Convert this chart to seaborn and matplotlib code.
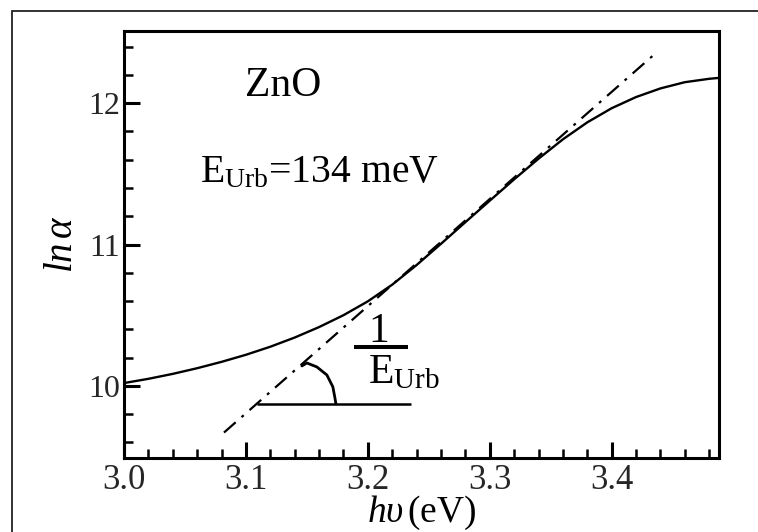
import numpy as np
import pandas as pd
import matplotlib
matplotlib.use("Agg")
import matplotlib.pyplot as plt
import matplotlib.patches as mpatches
from matplotlib.ticker import MultipleLocator
import seaborn as sns

# ---- data ----
photon_energy = [3.00, 3.02, 3.04, 3.06, 3.08, 3.10, 3.12, 3.14, 3.16, 3.18,
                 3.20, 3.22, 3.24, 3.26, 3.28, 3.30, 3.32, 3.34, 3.36, 3.38,
                 3.40, 3.42, 3.44, 3.46, 3.48, 3.49]
ln_alpha = [10.02, 10.05, 10.085, 10.125, 10.17, 10.22, 10.277, 10.342, 10.416, 10.50,
            10.598, 10.716, 10.855, 11.005, 11.158, 11.31, 11.461, 11.607, 11.744, 11.864,
            11.964, 12.043, 12.104, 12.148, 12.172, 12.18]
tangent_x = [3.082, 3.437]
tangent_y = [9.67, 12.36]
baseline_x = [3.109, 3.235]
baseline_y = [9.873, 9.873]
arc_x = [3.1738, 3.1730, 3.1713, 3.1664, 3.1582, 3.1500, 3.1459]
arc_y = [9.873, 9.915, 9.993, 10.077, 10.134, 10.162, 10.141]
frac_bar_x = [3.189, 3.233]
frac_bar_y = [10.275, 10.275]
x_ticks = [3.0, 3.1, 3.2, 3.3, 3.4]
x_ticklabels = ["3.0", "3.1", "3.2", "3.3", "3.4"]
y_ticks = [10, 11, 12]
y_ticklabels = ["10", "11", "12"]
material = "ZnO"
urbach_text = "E$_{\\mathrm{Urb}}$=134 meV"

sns.set_theme(style="ticks")
plt.rcParams["font.family"] = ["Liberation Serif", "DejaVu Serif"]
plt.rcParams["mathtext.fontset"] = "custom"
plt.rcParams["mathtext.rm"] = "Liberation Serif"
plt.rcParams["mathtext.it"] = "Liberation Serif:italic"
plt.rcParams["mathtext.bf"] = "Liberation Serif:bold"

fig = plt.figure(figsize=(7.58, 5.32), dpi=100)
ax = fig.add_axes([124 / 758, 1 - 458 / 532, (719 - 124) / 758, (458 - 31) / 532])

df = pd.DataFrame({"E": photon_energy, "lna": ln_alpha})
sns.lineplot(data=df, x="E", y="lna", ax=ax, color="black", lw=1.7, sort=False)
tdf = pd.DataFrame({"E": tangent_x, "lna": tangent_y})
sns.lineplot(data=tdf, x="E", y="lna", ax=ax, color="black", lw=1.6,
             linestyle=(0, (7, 3.5, 1.3, 3.5)))
ax.plot(baseline_x, baseline_y, color="black", lw=1.8, solid_capstyle="butt")
ax.plot(arc_x, arc_y, color="black", lw=2.0, solid_joinstyle="round")
ax.plot(frac_bar_x, frac_bar_y, color="black", lw=2.9, solid_capstyle="butt")

ax.set_xlim(3.0, 3.488)
ax.set_ylim(9.49, 12.51)
ax.set_xticks(x_ticks)
ax.set_xticklabels(x_ticklabels)
ax.set_yticks(y_ticks)
ax.set_yticklabels(y_ticklabels)
ax.xaxis.set_minor_locator(MultipleLocator(0.02))
ax.yaxis.set_minor_locator(MultipleLocator(0.2))
ax.tick_params(which="major", direction="in", length=11.5, width=2.2, color="black")
ax.tick_params(which="minor", direction="in", length=6.5, width=1.8, color="black")
ax.tick_params(axis="x", which="major", labelsize=25, pad=4)
ax.tick_params(axis="y", which="major", labelsize=23, pad=3)
for s in ax.spines.values():
    s.set_linewidth(2.2)
    s.set_color("black")
    s.set_visible(True)
ax.set_facecolor("white")

ax.set_xlabel("$h\\upsilon\\,$(eV)", fontsize=27, labelpad=-2, color="black")
ax.set_ylabel("$ln\\,\\alpha$", fontsize=28, labelpad=5, color="black")

ax.text(3.099, 12.05, material, fontsize=30, ha="left", va="baseline", color="black")
ax.text(3.062, 11.44, urbach_text, fontsize=28.5, ha="left", va="baseline", color="black")
ax.text(3.209, 10.31, "1", fontsize=30, ha="center", va="baseline", color="black")
ax.text(3.200, 10.02, "E$_{\\mathrm{Urb}}$", fontsize=30, ha="left", va="baseline", color="black")

frame = mpatches.Rectangle((12 / 758, -0.5), 2.0, 0.5 + 1 - 11 / 532,
                           transform=fig.transFigure, fill=False, lw=1.3,
                           edgecolor="#222222")
fig.patches.append(frame)

fig.savefig("out.png", dpi=100, facecolor="white")
